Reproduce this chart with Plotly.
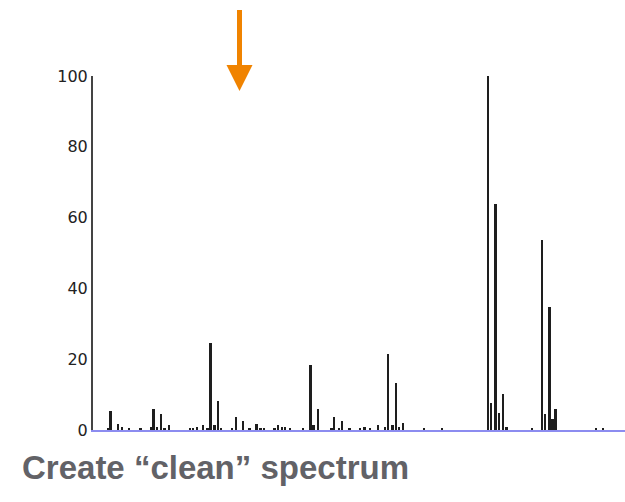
import plotly.graph_objects as go

# m/z positions (arbitrary units along the axis) and relative intensities
mz = [15, 17.7, 25, 29.3, 36, 47.7, 58, 60.7, 64, 68.3, 71.7, 76,
      97, 100, 104, 110.3, 114.7, 117.7, 121.7, 125, 128.3, 139, 143, 150.3, 156.7,
      163.7, 167.7, 171, 181.7, 185, 189, 192.3, 197, 210.3, 217.7, 220.7, 225.3,
      238.7, 241.3, 246, 249, 256.7, 267, 271.7, 277.3, 285, 292.3, 295.3, 299.7,
      303, 306.3, 310.3, 331, 349, 395.3, 398, 402.7, 406, 410.3, 413.7, 439,
      449.3, 452, 456.7, 459.7, 462.7, 503, 510.3]
intensity = [0.5, 5.5, 1.7, 0.9, 0.5, 0.5, 0.9, 5.8, 0.9, 4.5, 0.5, 1.3,
             0.4, 0.4, 0.9, 1.3, 0.5, 24.6, 1.3, 8.2, 0.4, 0.5, 3.8, 2.5, 0.4,
             1.6, 0.4, 0.4, 0.4, 1.3, 0.9, 0.9, 0.4, 0.4, 18.5, 1.3, 5.8,
             0.4, 3.8, 0.4, 2.5, 0.4, 0.4, 0.9, 0.4, 1.3, 0.9, 21.5, 1.3,
             13.4, 0.9, 2.1, 0.4, 0.3, 100, 7.7, 63.8, 4.9, 10.1, 0.9, 0.3,
             53.8, 4.4, 34.7, 3.0, 5.8, 0.3, 0.3]

y_ticks = [0, 20, 40, 60, 80, 100]
title_text = "Create \u201cclean\u201d spectrum"

fig = go.Figure()
fig.add_trace(go.Bar(x=mz, y=intensity, width=1.6,
                     marker=dict(color="#1e1e1e", line=dict(width=0)),
                     hoverinfo="x+y"))

W, H = 625, 502
L, R, T, B = 93, 0, 76, 72
pw, ph = W - L - R, H - T - B

def px(xp):
    return (xp - L) / pw

def py(yp):
    return (H - B - yp) / ph

arrow_color = "#F08300"
shapes = [
    dict(type="rect", xref="paper", yref="paper",
         x0=px(237), x1=px(242), y0=py(66), y1=py(10),
         fillcolor=arrow_color, line=dict(width=0)),
    dict(type="path", xref="paper", yref="paper",
         path=f"M {px(226.5)} {py(65)} L {px(252.5)} {py(65)} L {px(239.5)} {py(91)} Z",
         fillcolor=arrow_color, line=dict(width=0)),
]

fig.update_layout(
    width=W, height=H,
    margin=dict(l=L, r=R, t=T, b=B),
    paper_bgcolor="white", plot_bgcolor="white",
    showlegend=False,
    bargap=0,
    shapes=shapes,
    xaxis=dict(range=[0, pw], showgrid=False, zeroline=False, showticklabels=False,
               ticks="", showline=True, linecolor="#8c8cf0", linewidth=1.5),
    yaxis=dict(range=[0, 100], tickvals=y_ticks, showgrid=False, zeroline=False,
               ticks="", showline=True, linecolor="#444444", linewidth=2,
               ticklabelstandoff=0,
               tickfont=dict(family="DejaVu Sans", size=16, color="#222222")),
    annotations=[dict(text=f"<b>{title_text}</b>", xref="paper", yref="paper",
                      x=px(20), y=py(467), xanchor="left", yanchor="middle",
                      showarrow=False,
                      font=dict(family="Liberation Sans, Arial", size=33, color="#626267"))],
)

fig.write_html("out.html")
